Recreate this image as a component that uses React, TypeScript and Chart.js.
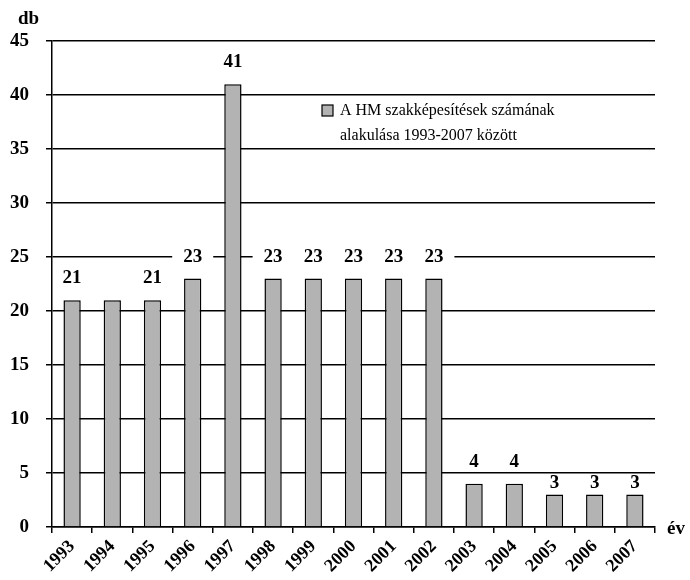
import React, { useEffect, useRef } from "react";
import { Chart, registerables } from "chart.js";
Chart.register(...registerables);

const years = ["1993","1994","1995","1996","1997","1998","1999","2000","2001","2002","2003","2004","2005","2006","2007"];
const counts = [21,21,21,23,41,23,23,23,23,23,4,4,3,3,3];
const shownLabels: (string | null)[] = ["21",null,"21","23","41","23","23","23","23","23","4","4","3","3","3"];
const seriesName = ["A HM szakképesítések számának", "alakulása 1993-2007 között"];
const yTitle = "db";
const xTitle = "év";

const FONT = "'Liberation Serif', 'Times New Roman', serif";

const overlay = {
  id: "overlay",
  afterDatasetsDraw(chart: any) {
    const ctx = chart.ctx;
    const meta = chart.getDatasetMeta(0);
    const area = chart.chartArea;
    ctx.save();
    ctx.font = `bold 19px ${FONT}`;
    ctx.textAlign = "center";
    ctx.textBaseline = "middle";
    meta.data.forEach((bar: any, i: number) => {
      const t = shownLabels[i];
      if (!t) return;
      const off = counts[i] < 4 ? 12 : 22;
      const y = bar.y - off;
      const w = Math.max(ctx.measureText(t).width, 20);
      const x0 = Math.max(bar.x - w / 2 - 10.5, area.left + 1.5);
      const x1 = bar.x + w / 2 + 10.5;
      ctx.fillStyle = "#fff";
      ctx.fillRect(x0, y - 7, x1 - x0, 14);
      ctx.fillStyle = "#000";
      ctx.fillText(t, bar.x, y);
    });
    // legend
    const ys = chart.scales.y;
    const ly1 = ys.getPixelForValue(40) + 16;
    const lx = 322;
    ctx.fillStyle = "#fff";
    ctx.fillRect(lx - 4, ly1 - 12, 250, 44);
    ctx.fillStyle = "#b3b3b3";
    ctx.fillRect(lx, ly1 - 6, 11, 11);
    ctx.strokeStyle = "#000";
    ctx.lineWidth = 1.2;
    ctx.strokeRect(lx, ly1 - 6, 11, 11);
    ctx.fillStyle = "#000";
    ctx.font = `16px ${FONT}`;
    ctx.textAlign = "left";
    ctx.fillText(seriesName[0], 340, ly1);
    ctx.fillText(seriesName[1], 340, ly1 + 25);
    // axis titles
    ctx.font = `bold 19px ${FONT}`;
    ctx.textAlign = "left";
    ctx.fillText(yTitle, 18, 19);
    ctx.fillText(xTitle, area.right + 12, area.bottom + 2);
    ctx.restore();
  },
};

export default function App() {
  const ref = useRef<HTMLCanvasElement>(null);
  useEffect(() => {
    const chart = new Chart(ref.current!, {
      type: "bar",
      data: {
        labels: years,
        datasets: [
          {
            data: counts,
            backgroundColor: "#b3b3b3",
            borderColor: "#000",
            borderWidth: 1.5,
            barPercentage: 0.43,
            categoryPercentage: 1,
          },
        ],
      },
      options: {
        animation: false,
        responsive: false,
        devicePixelRatio: 1,
        layout: { padding: { top: 41, right: 35, left: 0, bottom: 0 } },
        plugins: { legend: { display: false }, tooltip: { enabled: false } },
        scales: {
          x: {
            grid: { drawOnChartArea: false, color: "#000", tickLength: 6, lineWidth: 1.5, offset: true },
            border: { color: "#000", width: 1.5 },
            ticks: { color: "#000", font: { family: FONT, size: 18, weight: "bold" }, maxRotation: 45, minRotation: 45, padding: 3 },
            afterFit: (s: any) => { s.height = 53; },
          },
          y: {
            min: 0,
            max: 45,
            ticks: { stepSize: 5, color: "#000", font: { family: FONT, size: 19, weight: "bold" }, padding: 17 },
            grid: { color: "#000", lineWidth: 1.5, tickLength: 6 },
            border: { color: "#000", width: 1.5 },
            afterFit: (s: any) => { s.width = 52; },
          },
        },
      },
      plugins: [overlay],
    });
    return () => chart.destroy();
  }, []);
  return (
    <div style={{ position: "fixed", left: 0, top: 0, width: 690, height: 580, background: "#fff" }}>
      <canvas ref={ref} width={690} height={580} />
    </div>
  );
}
